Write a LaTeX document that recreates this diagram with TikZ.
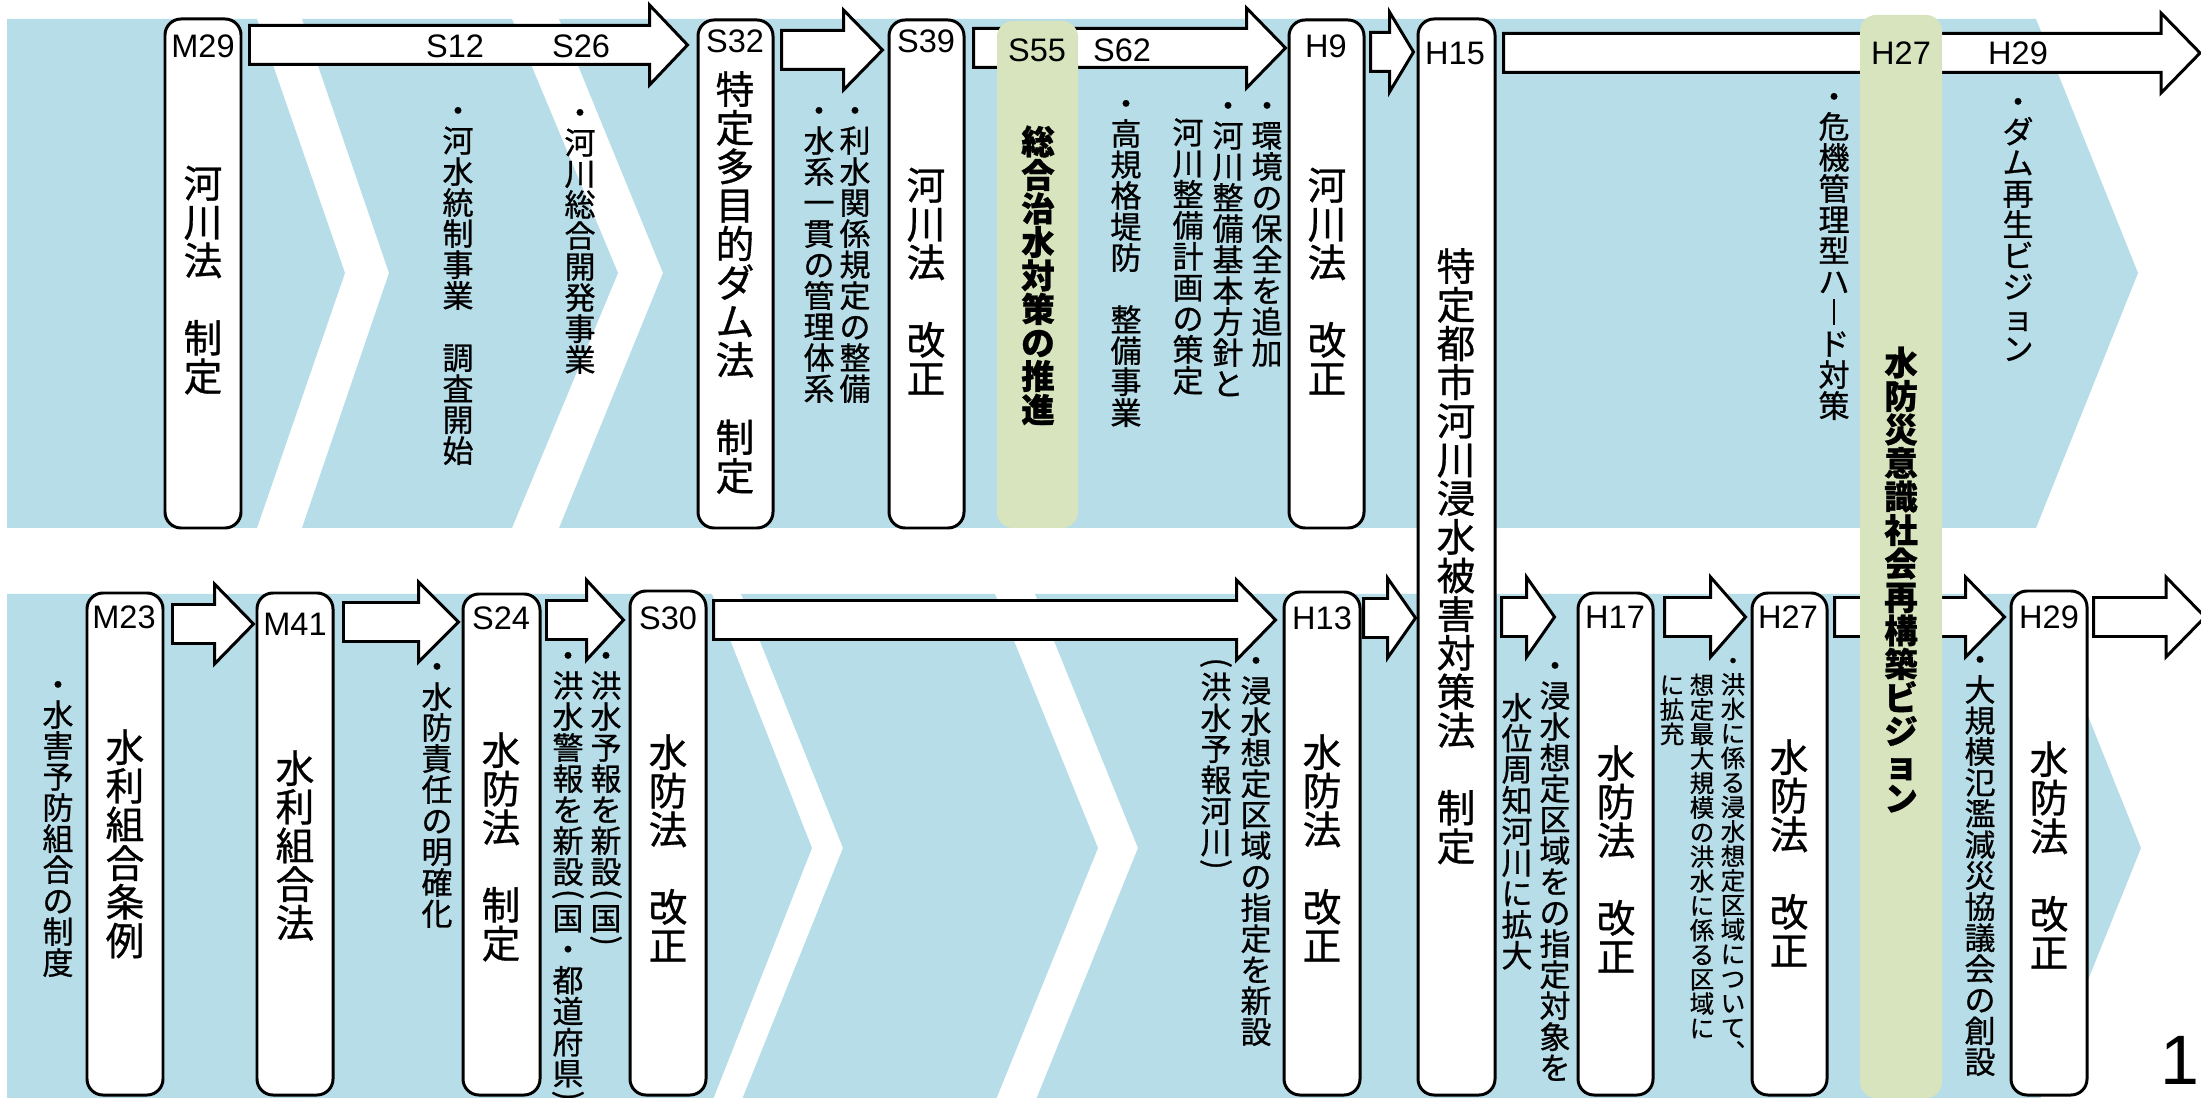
\documentclass[tikz,border=0pt]{standalone}
\usepackage{fontspec}
\setmainfont{Liberation Sans}
\newfontfamily\cjk[FakeBold=0.8]{Noto Sans CJK JP}
\usepackage{graphicx}
\usetikzlibrary{calc,fit}
\definecolor{blu}{RGB}{183,221,232}
\definecolor{grn}{RGB}{215,228,189}

\newcommand\vstrut{\vrule height 0.88em depth 0.12em width 0pt\relax}
\newcommand\VD{\hbox to 1em{\hss\vrule height 0.47em depth 0.28em width 0pt\relax\raisebox{-0.19em}[0pt][0pt]{・}\hss}}
\newcommand\VL{\hbox to 1em{\hss\vrule height 0.31em depth 0.19em width 0pt\relax\makebox[0pt]{\raisebox{-0.23em}[0pt][0pt]{\rotatebox[origin=c]{-90}{(}}}\hss}}
\newcommand\VR{\hbox to 1em{\hss\vrule height 0.31em depth 0.19em width 0pt\relax\makebox[0pt]{\raisebox{-0.23em}[0pt][0pt]{\rotatebox[origin=c]{-90}{)}}}\hss}}
\newcommand\VB{\hbox to 1em{\hss\vstrut\rule[-0.02em]{0.07em}{0.84em}\hss}}
\newcommand\VC{\hbox to 1em{\hss\vstrut ︑\hss}}
\ExplSyntaxOn
\cs_new_protected:Npn \vt_std:n #1
  { \hbox_to_wd:nn { 1em } { \hss \vstrut #1 \hss } }
\cs_new_protected:Npn \vt_cell:n #1
  {
    \tl_if_single_token:nTF {#1}
      { \token_if_cs:NTF #1 {#1} { \vt_std:n {#1} } }
      { \vt_std:n {#1} }
  }
\NewDocumentCommand \vtext { m }
  { \vbox:n { \offinterlineskip \tl_map_function:nN {#1} \vt_cell:n } }
\ExplSyntaxOff

\newcommand\blockarr[6]{%
  \draw[barr] ($(#1 |- 0,#3)+(#4,-19.5)$) -- ($(#2 |- 0,#3)+({-(#5)-(#6)},-19.5)$)
    -- ($(#2 |- 0,#3)+({-(#5)-(#6)},-40)$) -- ($(#2 |- 0,#3)+({-(#5)},0)$)
    -- ($(#2 |- 0,#3)+({-(#5)-(#6)},40)$) -- ($(#2 |- 0,#3)+({-(#5)-(#6)},19.5)$)
    -- ($(#1 |- 0,#3)+(#4,19.5)$) -- cycle;}

\begin{document}
\begin{tikzpicture}[x=0.01cm,y=-0.01cm,
  wbox/.style={draw, line width=0.85pt, fill=white, rounded corners=0.16cm, inner sep=0pt},
  gbox/.style={fill=grn, rounded corners=0.16cm, inner sep=0pt},
  barr/.style={draw, line width=0.85pt, fill=white},
  lab/.style={font=\fontsize{9.25}{9.25}\selectfont, inner sep=0pt},
  vbig/.style={anchor=north, inner sep=0pt, font=\cjk\fontsize{11}{11}\selectfont},
  vbold/.style={anchor=north, inner sep=0pt, font=\cjk\bfseries\fontsize{9.53}{9.53}\selectfont},
  vsm/.style={anchor=north, inner sep=0pt, font=\cjk\fontsize{8.82}{8.82}\selectfont},
  vtiny/.style={anchor=north, inner sep=0pt, font=\cjk\fontsize{6.97}{6.97}\selectfont}
]
\useasboundingbox (0,0) rectangle (2201,1098);
\fill[white] (0,0) rectangle (2201,1098);
% top band
\fill[blu] (7,19) -- (257,19) -- (345,273) -- (257,528) -- (7,528) -- cycle;
\fill[blu] (302,19) -- (512,19) -- (618,273) -- (512,528) -- (302,528) -- (389,273) -- cycle;
\fill[blu] (559,19) -- (2036,19) -- (2138,273) -- (2036,528) -- (559,528) -- (663,273) -- cycle;
% bottom band
\fill[blu] (7,594) -- (712,594) -- (812,848) -- (712,1102) -- (7,1102) -- cycle;
\fill[blu] (741,594) -- (995,594) -- (1098,848) -- (995,1102) -- (741,1102) -- (843,848) -- cycle;
\fill[blu] (1035,594) -- (2039,594) -- (2141,848) -- (2039,1102) -- (1035,1102) -- (1138,848) -- cycle;

% boxes
\node[wbox, fit={(165,19) (241,528)}] (m29) {};
\node[wbox, fit={(698,20) (773,528)}] (s32) {};
\node[wbox, fit={(889,20) (964,528)}] (s39) {};
\node[wbox, fit={(1289,20) (1364,528)}] (h9) {};
\node[wbox, fit={(1418,19) (1495,1095)}] (h15) {};
\node[wbox, fit={(87,593) (163,1095)}] (m23) {};
\node[wbox, fit={(257,593) (333,1095)}] (m41) {};
\node[wbox, fit={(463,594) (540,1095)}] (s24) {};
\node[wbox, fit={(630,591) (706,1095)}] (s30) {};
\node[wbox, fit={(1284,592) (1360,1095)}] (h13) {};
\node[wbox, fit={(1578,593) (1653,1095)}] (h17) {};
\node[wbox, fit={(1752,593) (1827,1095)}] (h27b) {};
\node[wbox, fit={(2011,591) (2087,1095)}] (h29b) {};
\coordinate (edgeT) at (2201,53);
\coordinate (edgeB) at (2201,617);

% block arrows
\blockarr{m29.east}{s32.west}{45}{7}{9}{38}
\blockarr{s32.east}{s39.west}{50}{7}{5}{39}
\blockarr{s39.east}{h9.west}{48}{8}{2}{39}
\blockarr{h9.east}{h15.west}{52}{5}{3}{24}
\blockarr{h15.east}{edgeT}{53}{7}{1}{39}
\blockarr{m23.east}{m41.west}{624}{8}{2}{39}
\blockarr{m41.east}{s24.west}{622}{9}{3}{40}
\blockarr{s24.east}{s30.west}{620}{5}{5}{37}
\blockarr{s30.east}{h13.west}{620}{6}{7}{39}
\blockarr{h13.east}{h15.west}{618}{2}{1}{28}
\blockarr{h15.east}{h17.west}{617}{5}{22}{28}
\blockarr{h17.east}{h27b.west}{617}{10}{5}{35}
\blockarr{h27b.east}{h29b.west}{617}{6}{5}{39}
\blockarr{h29b.east}{edgeB}{617}{5}{-4}{39}

% green highlights
\node[gbox, fit={(997,21) (1078,528)}] (s55) {};
\node[gbox, fit={(1860,15) (1942,1098)}] (h27g) {};

% year labels
\node[lab] (lm29) at (203,46) {M29};
\node[lab] (ls12) at (455,46) {S12};
\node[lab] (ls26) at (581,46) {S26};
\node[lab] (ls32) at (735,41) {S32};
\node[lab] (ls39) at (926,41) {S39};
\node[lab] (ls55) at (1037,50) {S55};
\node[lab] (ls62) at (1122,50) {S62};
\node[lab] (lh9) at (1326,46) {H9};
\node[lab] (lh15) at (1455,53) {H15};
\node[lab] (lh27) at (1901,53) {H27};
\node[lab] (lh29) at (2018,53) {H29};
\node[lab] (lm23) at (124,617) {M23};
\node[lab] (lm41) at (295,624) {M41};
\node[lab] (ls24) at (501,618) {S24};
\node[lab] (ls30) at (668,618) {S30};
\node[lab] (lh13) at (1322,618) {H13};
\node[lab] (lh17) at (1615,617) {H17};
\node[lab] (lh27b) at (1788,617) {H27};
\node[lab] (lh29b) at (2049,617) {H29};

% box texts (top)
\node[vbig] (tm29) at (203,163) {\vtext{河川法　制定}};
\node[vbig] (ts32) at (735,69) {\vtext{特定多目的ダム法　制定}};
\node[vbig] (ts39) at (926,165) {\vtext{河川法　改正}};
\node[vbig] (th9) at (1327,165) {\vtext{河川法　改正}};
\node[vbig] (th15) at (1456,246) {\vtext{特定都市河川浸水被害対策法　制定}};
\node[vbold] (ts55) at (1038,124) {\vtext{総合治水対策の推進}};
\node[vbold] (th27g) at (1901,345) {\vtext{水防災意識社会再構築ビジョン}};
% notes (top)
\node[vsm] (n1) at (458,101) {\vtext{\VD 河水統制事業　調査開始}};
\node[vsm] (n2) at (580,103) {\vtext{\VD 河川総合開発事業}};
\node[vsm] (n3) at (855,101) {\vtext{\VD 利水関係規定の整備}};
\node[vsm] (n4) at (819,101) {\vtext{\VD 水系一貫の管理体系}};
\node[vsm] (n5) at (1126,94) {\vtext{\VD 高規格堤防　整備事業}};
\node[vsm] (n6) at (1267,96) {\vtext{\VD 環境の保全を追加}};
\node[vsm] (n7) at (1228,96) {\vtext{\VD 河川整備基本方針と}};
\node[vsm] (n8) at (1188,116) {\vtext{河川整備計画の策定}};
\node[vsm] (n9) at (1834,87) {\vtext{\VD 危機管理型ハ\VB ド対策}};
\node[vsm] (n10) at (2018,92) {\vtext{\VD ダム再生ビジョン}};

% box texts (bottom)
\node[vbig] (tm23) at (125,727) {\vtext{水利組合条例}};
\node[vbig] (tm41) at (295,748) {\vtext{水利組合法}};
\node[vbig] (ts24) at (501,730) {\vtext{水防法　制定}};
\node[vbig] (ts30) at (668,732) {\vtext{水防法　改正}};
\node[vbig] (th13) at (1322,732) {\vtext{水防法　改正}};
\node[vbig] (th17) at (1616,743) {\vtext{水防法　改正}};
\node[vbig] (th27) at (1789,737) {\vtext{水防法　改正}};
\node[vbig] (th29) at (2049,739) {\vtext{水防法　改正}};
% notes (bottom)
\node[vsm] (b1) at (58,675) {\vtext{\VD 水害予防組合の制度}};
\node[vsm] (b2) at (437,657) {\vtext{\VD 水防責任の明確化}};
\node[vsm] (b3) at (606,646) {\vtext{\VD 洪水予報を新設\VL 国\VR}};
\node[vsm] (b4) at (568,646) {\vtext{\VD 洪水警報を新設\VL 国・都道府県\VR}};
\node[vsm] (b5) at (1256,651) {\vtext{\VD 浸水想定区域の指定を新設}};
\node[vsm] (b6) at (1216,655) {\vtext{\VL 洪水予報河川\VR}};
\node[vsm] (b7) at (1555,656) {\vtext{\VD 浸水想定区域をの指定対象を}};
\node[vsm] (b8) at (1517,691) {\vtext{水位周知河川に拡大}};
\node[vtiny] (b9) at (1733,653) {\vtext{\VD 洪水に係る浸水想定区域について\VC}};
\node[vtiny] (b10) at (1702,672) {\vtext{想定最大規模の洪水に係る区域に}};
\node[vtiny] (b11) at (1672,672) {\vtext{に拡充}};
\node[vsm] (b12) at (1980,650) {\vtext{\VD 大規模氾濫減災協議会の創設}};

% page number
\node[font=\fontsize{19.9}{19.9}\selectfont, inner sep=0pt, anchor=east] (pgno) at (2200,1060) {1};
\end{tikzpicture}
\end{document}
